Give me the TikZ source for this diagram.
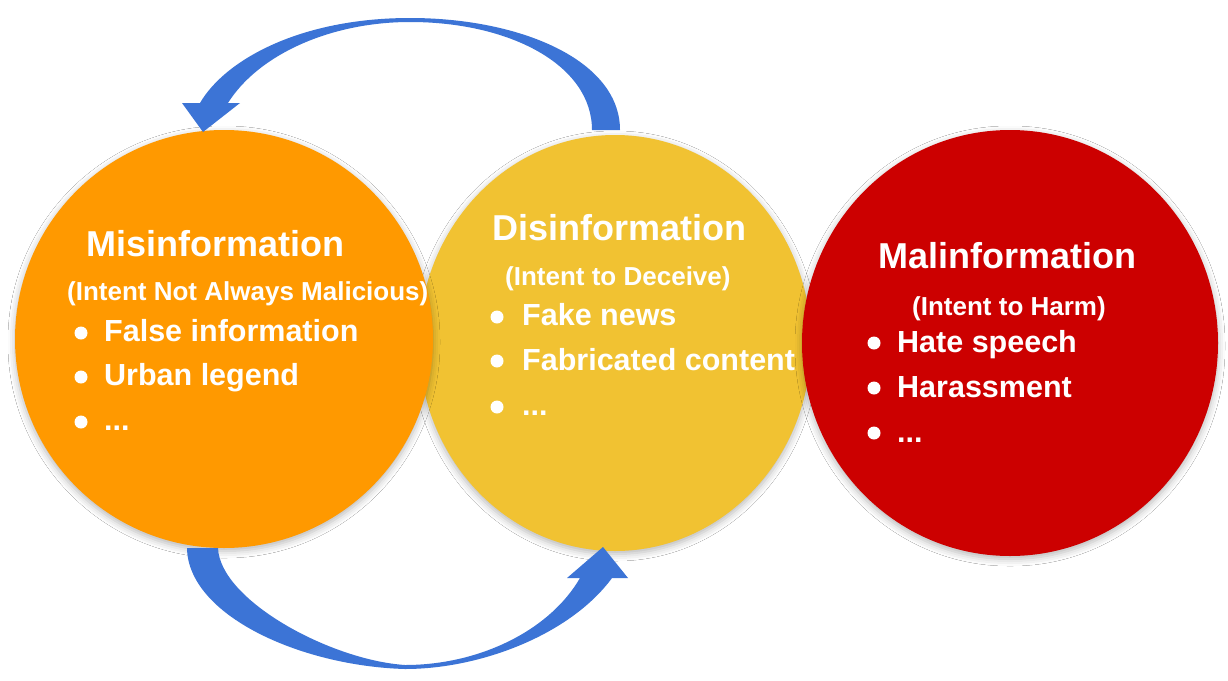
\documentclass[tikz,border=0pt]{standalone}
\usepackage{fontspec}
\setmainfont{Liberation Sans}
\usetikzlibrary{shapes.geometric,shadows.blur}
\definecolor{cOrange}{HTML}{FF9900}
\definecolor{cYellow}{HTML}{F1C232}
\definecolor{cRed}{HTML}{CC0000}
\definecolor{cBlue}{HTML}{3C74D6}
\begin{document}
\begin{tikzpicture}[x=1pt,y=-1pt,
  bubble/.style={ellipse, inner sep=0pt, blur shadow={shadow xshift=0pt, shadow yshift=-3pt, shadow blur radius=7pt, shadow blur extra rounding=2pt, shadow opacity=28, shadow scale=1.0}},
  ttl/.style={anchor=base west, text=white, font=\bfseries\fontsize{36}{40}\selectfont, inner sep=0pt},
  sub/.style={anchor=base west, text=white, font=\bfseries\fontsize{26}{30}\selectfont, inner sep=0pt},
  itm/.style={anchor=base west, text=white, font=\bfseries\fontsize{30.5}{34}\selectfont, inner sep=0pt},
  bdot/.style={circle, fill=white, inner sep=0pt, minimum size=13pt},
  curvearrow/.style={fill=cBlue}]
\useasboundingbox (0,0) rectangle (1228,680);
\fill[white] (0,0) rectangle (1228,680);

% circles
\node[bubble, fill=cYellow, minimum width=392pt, minimum height=416pt] (dis) at (615,343) {};
\node[bubble, fill=cOrange, minimum width=418pt, minimum height=418pt] (mis) at (224,339) {};
\node[bubble, fill=cRed, minimum width=416pt, minimum height=426pt] (mal) at (1010,343) {};

% top arrow: from Disinformation back to Misinformation
\fill[curvearrow] (620,130) .. controls (620,60) and (520,18) .. (410,18)
  .. controls (300,18) and (225,60) .. (200,103)
  -- (182,103) -- (203,132) -- (240,103) -- (228,103)
  .. controls (258,55) and (330,22) .. (410,22)
  .. controls (510,22) and (592,65) .. (592,130) -- cycle;

% bottom arrow: from Misinformation to Disinformation
\fill[curvearrow] (187,548) .. controls (188,615) and (300,666) .. (405,669)
  .. controls (480,669) and (570,635) .. (612,578)
  -- (628,578) -- (603,547) -- (567,578) -- (580,578)
  .. controls (550,630) and (480,665) .. (405,665)
  .. controls (330,660) and (220,600) .. (218,548) -- cycle;

% Misinformation text
\node[ttl] (mt) at (86,256) {Misinformation};
\node[sub] (ms) at (67,300) {(Intent Not Always Malicious)};
\node[bdot] (md1) at (81,333) {};
\node[itm] (m1) at (104,341) {False information};
\node[bdot] (md2) at (81,377) {};
\node[itm] (m2) at (104,385) {Urban legend};
\node[bdot] (md3) at (81,422) {};
\node[itm] (m3) at (104,430) {...};

% Disinformation text
\node[ttl] (dt) at (492,240) {Disinformation};
\node[sub] (ds) at (505,285) {(Intent to Deceive)};
\node[bdot] (dd1) at (497,317) {};
\node[itm] (d1) at (522,325) {Fake news};
\node[bdot] (dd2) at (497,361) {};
\node[itm] (d2) at (522,370) {Fabricated content};
\node[bdot] (dd3) at (497,407) {};
\node[itm] (d3) at (522,415) {...};

% Malinformation text
\node[ttl] (rt) at (878,268) {Malinformation};
\node[sub] (rs) at (912,315) {(Intent to Harm)};
\node[bdot] (rd1) at (874,343) {};
\node[itm] (r1) at (897,352) {Hate speech};
\node[bdot] (rd2) at (874,388) {};
\node[itm] (r2) at (897,397) {Harassment};
\node[bdot] (rd3) at (874,433) {};
\node[itm] (r3) at (897,442) {...};
\end{tikzpicture}
\end{document}
